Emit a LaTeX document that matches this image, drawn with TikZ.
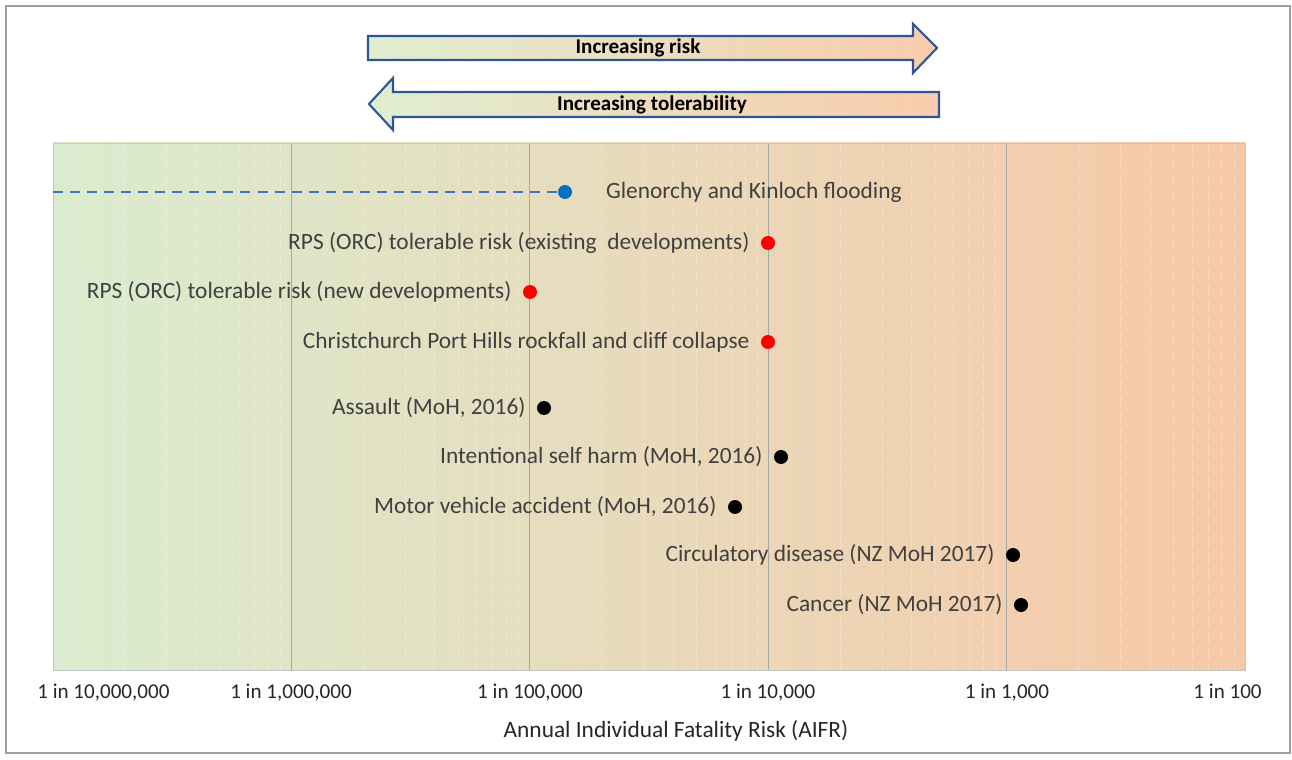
\documentclass[tikz,border=0pt]{standalone}
\usepackage{fontspec}
\setmainfont{Carlito}
\usepackage{xcolor}
\usetikzlibrary{arrows.meta, positioning}

\definecolor{riskgreen}{RGB}{218,236,207}
\definecolor{riskbeige}{RGB}{238,227,201}
\definecolor{riskpeach}{RGB}{247,200,167}
\definecolor{arrowgreen}{RGB}{224,238,209}
\definecolor{arrowpeach}{RGB}{248,204,172}
\definecolor{arrowblue}{RGB}{47,85,151}
\definecolor{floodblue}{RGB}{0,112,192}
\definecolor{dashblue}{RGB}{68,114,196}
\definecolor{labelgray}{RGB}{64,64,64}
\definecolor{axisgray}{RGB}{38,38,38}

\begin{document}
\begin{tikzpicture}[x=0.02cm, y=-0.02cm,
    dot/.style={circle, inner sep=0pt, minimum size=0.28cm},
    lbl/.style={text=labelgray, font=\fontsize{13.3}{15}\selectfont},
    ticklbl/.style={text=axisgray, font=\fontsize{12}{14}\selectfont, inner sep=0pt, text height=8pt, text depth=2.5pt},
    bigarrow/.style={left color=arrowgreen, right color=arrowpeach, draw=arrowblue, line width=1.2pt, line join=miter},
    majorgrid/.style={gray!70, line width=0.5pt},
    minorgrid/.style={white, opacity=0.3, line width=0.5pt, dash pattern=on 6pt off 3pt}]

    \useasboundingbox (0,0) rectangle (1292,760);

    % ==========================================
    % Frame
    % ==========================================
    \draw[gray!75, line width=1pt] (6,6) rectangle (1290,753);

    % ==========================================
    % Risk / tolerability arrows
    % ==========================================
    \shadedraw[bigarrow] (368,36) -- (913,36) -- (913,24) -- (937,48) -- (913,73) -- (913,60) -- (368,60) -- cycle;
    \node[font=\fontsize{12}{14}\selectfont\bfseries] (riskTxt) at (638,48) {Increasing risk};

    \shadedraw[bigarrow] (939,92) -- (393,92) -- (393,78) -- (369,104) -- (393,130) -- (393,117) -- (939,117) -- cycle;
    \node[font=\fontsize{12}{14}\selectfont\bfseries] (tolTxt) at (652,105) {Increasing tolerability};

    % ==========================================
    % Plot area and grid
    % ==========================================
    \def\dec{238.4}
    \shade[left color=riskgreen, middle color=riskbeige, right color=riskpeach] (53,143) rectangle (1245,670);
    \foreach \d in {0,...,4}
        \foreach \k in {2,...,9}
            \draw[minorgrid] ({53+\dec*(\d+log10(\k))},143) -- ++(0,527);
    \foreach \d in {1,...,4}
        \draw[majorgrid] ({53+\dec*\d},143) -- ++(0,527);
    \draw[gray!45, line width=0.5pt] (53,143) rectangle (1245,670);

    % tick labels
    \node[ticklbl, anchor=west] (t7) at (37,694) {1 in 10,000,000};
    \node[ticklbl] (t6) at (291,694) {1 in 1,000,000};
    \node[ticklbl] (t5) at (530,694) {1 in 100,000};
    \node[ticklbl] (t4) at (768,694) {1 in 10,000};
    \node[ticklbl] (t3) at (1007,694) {1 in 1,000};
    \node[ticklbl, anchor=east] (t2) at (1262,694) {1 in 100};
    \node[text=axisgray, font=\fontsize{13.3}{15}\selectfont] (axisTitle) at (676,731) {Annual Individual Fatality Risk (AIFR)};

    % ==========================================
    % Flooding (blue)
    % ==========================================
    \coordinate (glenStart) at (53,192);
    \node[dot, fill=floodblue] (glen) at (565,192) {};
    \draw[dashblue, line width=1.3pt, dash pattern=on 5.7pt off 4pt] (glenStart) -- (glen);
    \node[lbl, right=0.55cm of glen] (glenTxt) {Glenorchy and Kinloch flooding};

    % ==========================================
    % Tolerable risk thresholds (red)
    % ==========================================
    \node[dot, fill=red] (rpsExist) at (768,243) {};
    \node[lbl, left=0.1cm of rpsExist] {RPS (ORC) tolerable risk (existing\ \ developments)};

    \node[dot, fill=red] (rpsNew) at (530,292) {};
    \node[lbl, left=0.1cm of rpsNew] {RPS (ORC) tolerable risk (new developments)};

    \node[dot, fill=red] (chch) at (768,342) {};
    \node[lbl, left=0.1cm of chch] {Christchurch Port Hills rockfall and cliff collapse};

    % ==========================================
    % Other causes of death (black)
    % ==========================================
    \node[dot, fill=black] (assault) at (544,408) {};
    \node[lbl, left=0.1cm of assault] {Assault (MoH, 2016)};

    \node[dot, fill=black] (selfHarm) at (781,457) {};
    \node[lbl, left=0.1cm of selfHarm] {Intentional self harm (MoH, 2016)};

    \node[dot, fill=black] (motor) at (735,507) {};
    \node[lbl, left=0.1cm of motor] {Motor vehicle accident (MoH, 2016)};

    \node[dot, fill=black] (circ) at (1013,555) {};
    \node[lbl, left=0.1cm of circ] {Circulatory disease (NZ MoH 2017)};

    \node[dot, fill=black] (cancer) at (1021,605) {};
    \node[lbl, left=0.1cm of cancer] {Cancer (NZ MoH 2017)};

\end{tikzpicture}
\end{document}
